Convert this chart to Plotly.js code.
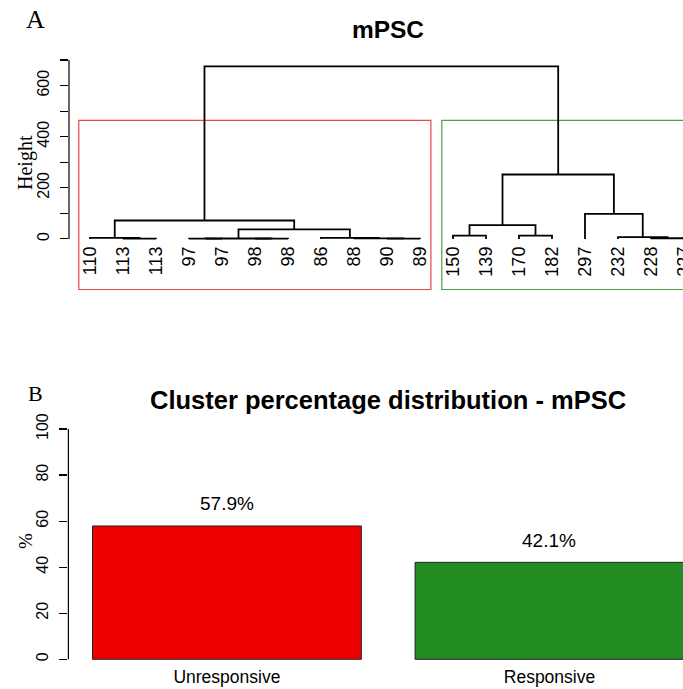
<!DOCTYPE html>
<html>
<head>
<meta charset="utf-8">
<script src="https://cdn.plot.ly/plotly-3.0.1.min.js"></script>
<style>
  html, body { margin: 0; padding: 0; overflow: hidden; background: #ffffff; }
  #chart { width: 700px; height: 689px; }
</style>
</head>
<body>
<div id="chart"></div>
<script>
// ---------- Panel A data: hierarchical clustering (R hclust style) ----------
const leafLabels = ["110","113","113","97","97","98","98","86","88","90","89",
                    "150","139","170","182","297","232","228","227"];
// merge steps: negative = leaf (1-based position in leaf order), positive = earlier merge
const mergeLeft   = [-2, -4, -6, -10, 2, -9, -18, -1, -8, -17, -12, -14, 5, 11, 8, -16, 14, 15];
const mergeRight  = [-3, -5, -7, -11, 3, 4, -19, 1, 6, 7, -13, -15, 9, 12, 13, 10, 16, 17];
const mergeHeight = [1, 0.8, 0.8, 1, 1.5, 2, 2.5, 4, 4, 7, 13, 13, 37, 54, 72, 98, 252, 675];
const clusterSizes = [11, 8];
const clusterColors = ["rgb(235,70,70)", "rgb(70,165,70)"];
const heightTicks = [0, 100, 200, 300, 400, 500, 600, 700];
const heightTickText = ["0", "", "200", "", "400", "", "600", ""];

// ---------- Panel B data ----------
const barCategories = ["Unresponsive", "Responsive"];
const barValues = [57.9, 42.1];
const barColors = ["#EE0000", "#228B22"];
const pctTicks = [0, 20, 40, 60, 80, 100];

// ---------- geometry helpers ----------
const W = 700, H = 689;
const px = v => v / W;
const py = v => 1 - v / H;

// dendrogram segments from merge data
const mPos = [], segX = [], segY = [];
function child(c) {
  return c < 0 ? [-c, 0] : [mPos[c - 1], mergeHeight[c - 1]];
}
for (let i = 0; i < mergeHeight.length; i++) {
  const [xa, ha] = child(mergeLeft[i]);
  const [xb, hb] = child(mergeRight[i]);
  const h = mergeHeight[i];
  segX.push(xa, xa, xb, xb, null);
  segY.push(ha, h, h, hb, null);
  mPos.push((xa + xb) / 2);
}
const sortedH = mergeHeight.slice().sort((a, b) => b - a);
const cutHeight = (sortedH[0] + sortedH[1]) / 2;

// rect.hclust style boxes
const usrBottom = -198;
const shapes = [];
let start = 0;
clusterSizes.forEach((n, k) => {
  shapes.push({
    type: "rect", xref: "x", yref: "y", layer: "below",
    x0: start + 0.66, x1: start + n + 0.33, y0: usrBottom, y1: cutHeight,
    line: { color: clusterColors[k], width: 1.2 }, fillcolor: "rgba(0,0,0,0)"
  });
  start += n;
});
// axis lines spanning only the tick range (R style)
shapes.push({ type: "line", xref: "x domain", yref: "y", x0: 0, x1: 0,
  y0: heightTicks[0], y1: heightTicks[heightTicks.length - 1], line: { color: "#000", width: 1.2 } });
shapes.push({ type: "line", xref: "x2 domain", yref: "y2", x0: 0, x1: 0,
  y0: pctTicks[0], y1: pctTicks[pctTicks.length - 1], line: { color: "#000", width: 1.2 } });

const traces = [
  {
    type: "scatter", mode: "lines", x: segX, y: segY,
    xaxis: "x", yaxis: "y", connectgaps: false,
    line: { color: "#000000", width: 1.8 }, hoverinfo: "skip", showlegend: false
  },
  {
    type: "bar", x: barCategories, y: barValues, xaxis: "x2", yaxis: "y2",
    marker: { color: barColors, line: { color: "#222222", width: 1 } },
    showlegend: false, hoverinfo: "skip"
  }
];

const sans = "Liberation Sans, Arial, sans-serif";
const serif = "Liberation Serif, Times New Roman, serif";

const annotations = [
  { text: "A", xref: "paper", yref: "paper", x: px(35), y: py(20), showarrow: false,
    xanchor: "center", yanchor: "middle", font: { family: serif, size: 26, color: "#000" } },
  { text: "B", xref: "paper", yref: "paper", x: px(35), y: py(394), showarrow: false,
    xanchor: "center", yanchor: "middle", font: { family: serif, size: 22, color: "#000" } },
  { text: "<b>Cluster percentage distribution - mPSC</b>", xref: "paper", yref: "paper",
    x: px(388), y: py(400), showarrow: false, xanchor: "center", yanchor: "middle",
    font: { family: sans, size: 25.5, color: "#000" } },
  { text: "Height", xref: "paper", yref: "paper", x: px(25), y: py(163), showarrow: false,
    textangle: -90, xanchor: "center", yanchor: "middle", font: { family: serif, size: 20, color: "#000" } },
  { text: "%", xref: "paper", yref: "paper", x: px(25), y: py(541), showarrow: false,
    textangle: -90, xanchor: "center", yanchor: "middle", font: { family: serif, size: 19, color: "#000" } }
];
barCategories.forEach((c, i) => {
  annotations.push({
    text: barValues[i].toFixed(1) + "%", xref: "x2", yref: "y2", x: c, y: barValues[i],
    yshift: 22, showarrow: false, xanchor: "center", yanchor: "middle",
    font: { family: sans, size: 19, color: "#000" }
  });
});

const layout = {
  width: W, height: H,
  margin: { l: 0, r: 0, t: 0, b: 0 },
  paper_bgcolor: "#fff", plot_bgcolor: "#fff",
  showlegend: false,
  title: { text: "<b>mPSC</b>", xref: "paper", yref: "paper", x: px(388), y: py(29),
           xanchor: "center", yanchor: "middle", font: { family: sans, size: 24.5, color: "#000" } },
  xaxis: {
    domain: [px(69), 1], range: [1 - 21 / 33, 1 + (W - 90) / 33],
    anchor: "free", position: py(242),
    tickmode: "array", tickvals: leafLabels.map((_, i) => i + 1), ticktext: leafLabels,
    tickangle: -90, ticks: "", showline: false, showgrid: false, zeroline: false,
    tickfont: { family: sans, size: 18, color: "#000" }
  },
  yaxis: {
    domain: [py(290), py(60)], range: [-200, 700], anchor: "x",
    tickmode: "array", tickvals: heightTicks, ticktext: heightTickText,
    ticks: "outside", ticklen: 8, tickwidth: 1.2, tickcolor: "#000", tickangle: -90,
    ticklabelstandoff: 5,
    showline: false, showgrid: false, zeroline: false,
    tickfont: { family: sans, size: 16, color: "#000" }
  },
  xaxis2: {
    domain: [px(68.4), 1], type: "category", range: [-0.4913, 1.4666], anchor: "y2",
    ticks: "", showline: false, showgrid: false, zeroline: false, ticklabelstandoff: 3,
    tickfont: { family: sans, size: 17.5, color: "#000" }
  },
  yaxis2: {
    domain: [py(661.6), py(429)], range: [-1, 100], anchor: "x2",
    tickmode: "array", tickvals: pctTicks,
    ticks: "outside", ticklen: 8, tickwidth: 1.2, tickcolor: "#000", tickangle: -90,
    ticklabelstandoff: 5,
    showline: false, showgrid: false, zeroline: false,
    tickfont: { family: sans, size: 16, color: "#000" }
  },
  bargap: 1 - 1 / 1.2,
  shapes: shapes,
  annotations: annotations
};

Plotly.newPlot("chart", traces, layout, { staticPlot: true, displayModeBar: false });
</script>
</body>
</html>
